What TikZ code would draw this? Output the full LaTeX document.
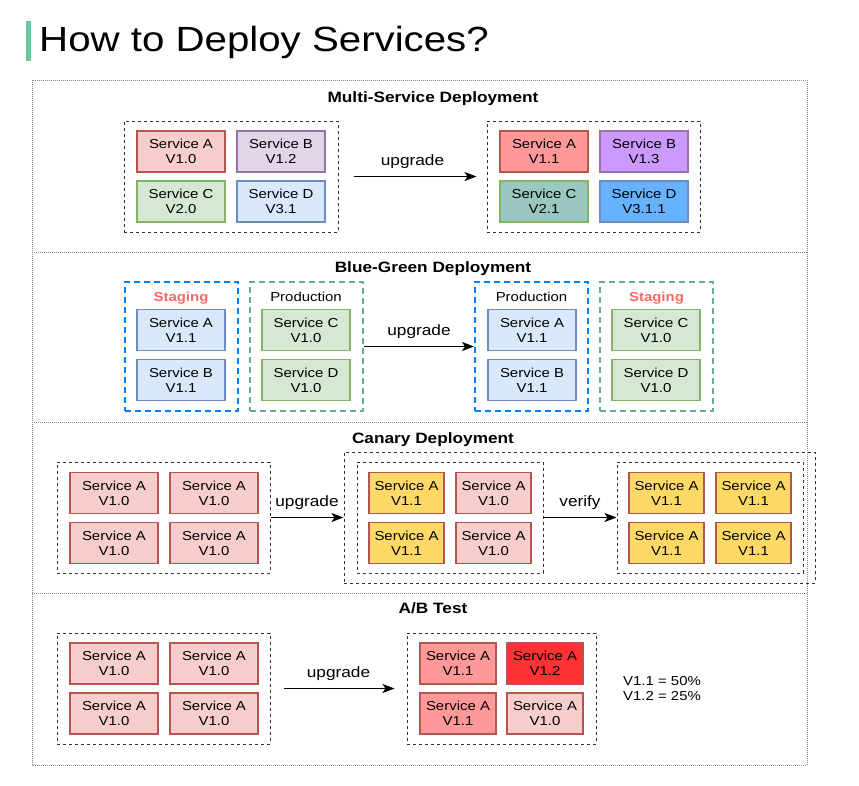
\documentclass[tikz,border=0pt]{standalone}
\usepackage{fontspec}
\setmainfont[FakeStretch=1.15]{Liberation Sans}
\usetikzlibrary{arrows.meta}
\definecolor{barGrn}{HTML}{6BC9A0}
\definecolor{redL}{HTML}{F8CECC}
\definecolor{redD}{HTML}{B85450}
\definecolor{redM}{HTML}{FF9999}
\definecolor{redS}{HTML}{FF3333}
\definecolor{purL}{HTML}{E1D5E7}
\definecolor{purD}{HTML}{9673A6}
\definecolor{purM}{HTML}{CC99FF}
\definecolor{grnL}{HTML}{D5E8D4}
\definecolor{grnD}{HTML}{82B366}
\definecolor{tealM}{HTML}{9AC7BF}
\definecolor{bluL}{HTML}{DAE8FC}
\definecolor{bluD}{HTML}{6C8EBF}
\definecolor{bluM}{HTML}{66B2FF}
\definecolor{yel}{HTML}{FFD966}
\definecolor{dBlue}{HTML}{007FFF}
\definecolor{dGrn}{HTML}{67AB9F}
\definecolor{stagRed}{HTML}{FF6666}
\tikzset{
    svc/.style 2 args={draw=#2,fill=#1,line width=1.2pt,minimum width=88,minimum height=41,inner sep=0,align=center,font=\fontsize{13}{15}\selectfont},
    grp/.style={draw=black!80,dash pattern=on 3pt off 3pt,line width=1pt,inner sep=0},
    bgrp/.style={draw=#1,dash pattern=on 6pt off 4pt,line width=2pt,inner sep=0,minimum width=113,minimum height=129},
    frame/.style={draw=black!45,dash pattern=on 1pt off 1pt,line width=1pt},
    sect/.style={font=\bfseries\fontsize{15}{18}\selectfont,anchor=base,inner sep=0},
    tag/.style={font=\fontsize{13}{15}\selectfont,anchor=base,inner sep=0},
    stag/.style={font=\bfseries\fontsize{13}{15}\selectfont,text=stagRed},
    lbl/.style={font=\fontsize{15}{18}\selectfont,anchor=base,inner sep=0,yshift=11pt},
    arr/.style={-{Stealth[length=12pt,width=9pt,inset=3pt]},line width=1.1pt},
}
\begin{document}
\begin{tikzpicture}[x=1pt,y=-1pt]
    \useasboundingbox (0,0) rectangle (859,785);
    %% Title
    \fill[barGrn] (26,21) rectangle (31,61);
    \node[anchor=base west,inner sep=0,font=\fontsize{35}{40}\selectfont] (title) at (39,51) {How to Deploy Services?};
    %% Frame
    \draw[frame] (32,80) rectangle (807,765);
    \draw[frame] (32,252) -- (807,252);
    \draw[frame] (32,422) -- (807,422);
    \draw[frame] (32,593) -- (807,593);
    %% Multi-Service Deployment
    \node[sect] (tMulti) at (433,102) {Multi-Service Deployment};
    \node[grp,minimum width=214,minimum height=111] (msOld) at (231,176.5) {};
    \node[svc={redL}{redD}] (msOldA) at (181,151.5) {Service A\\V1.0};
    \node[svc={purL}{purD}] (msOldB) at (281,151.5) {Service B\\V1.2};
    \node[svc={grnL}{grnD}] (msOldC) at (181,201.5) {Service C\\V2.0};
    \node[svc={bluL}{bluD}] (msOldD) at (281,201.5) {Service D\\V3.1};
    \node[grp,minimum width=213,minimum height=111] (msNew) at (593.5,176.5) {};
    \node[svc={redM}{redD}] (msNewA) at (544,151.5) {Service A\\V1.1};
    \node[svc={purM}{purD}] (msNewB) at (644,151.5) {Service B\\V1.3};
    \node[svc={tealM}{grnD}] (msNewC) at (544,201.5) {Service C\\V2.1};
    \node[svc={bluM}{bluD}] (msNewD) at (644,201.5) {Service D\\V3.1.1};
    \draw[arr,shorten <=15pt,shorten >=10pt] (msOld) -- node[lbl] {upgrade} (msNew);
    %% Blue-Green Deployment
    \node[sect] (tBlue) at (433,272) {Blue-Green Deployment};
    \node[bgrp=dBlue] (bgStage) at (181.5,346.5) {};
    \node[tag,stag] (bgStageT) at (181,301) {Staging};
    \node[svc={bluL}{bluD}] (bgStageA) at (181,330) {Service A\\V1.1};
    \node[svc={bluL}{bluD}] (bgStageB) at (181,380) {Service B\\V1.1};
    \node[bgrp=dGrn] (bgProd) at (306.5,346.5) {};
    \node[tag] (bgProdT) at (306,301) {Production};
    \node[svc={grnL}{grnD}] (bgProdC) at (306,330) {Service C\\V1.0};
    \node[svc={grnL}{grnD}] (bgProdD) at (306,380) {Service D\\V1.0};
    \node[bgrp=dBlue] (bgProdN) at (531.5,346.5) {};
    \node[tag] (bgProdNT) at (531.5,301) {Production};
    \node[svc={bluL}{bluD}] (bgProdNA) at (532,330) {Service A\\V1.1};
    \node[svc={bluL}{bluD}] (bgProdNB) at (532,380) {Service B\\V1.1};
    \node[bgrp=dGrn] (bgStageN) at (656.5,346.5) {};
    \node[tag,stag] (bgStageNT) at (656.5,301) {Staging};
    \node[svc={grnL}{grnD}] (bgStageNC) at (656,330) {Service C\\V1.0};
    \node[svc={grnL}{grnD}] (bgStageND) at (656,380) {Service D\\V1.0};
    \draw[arr] (bgProd) -- node[lbl] {upgrade} (bgProdN);
    %% Canary Deployment
    \node[sect] (tCanary) at (433,443) {Canary Deployment};
    \node[grp,minimum width=213,minimum height=111] (caOld) at (163.5,517.5) {};
    \node[svc={redL}{redD}] (caOldA) at (114,493) {Service A\\V1.0};
    \node[svc={redL}{redD}] (caOldB) at (214,493) {Service A\\V1.0};
    \node[svc={redL}{redD}] (caOldC) at (114,543) {Service A\\V1.0};
    \node[svc={redL}{redD}] (caOldD) at (214,543) {Service A\\V1.0};
    \node[grp,minimum width=471,minimum height=131] (caOut) at (579.5,517.5) {};
    \node[grp,minimum width=186,minimum height=111] (caMid) at (450,517.5) {};
    \node[svc={yel}{redD},minimum width=75] (caMidA) at (406.5,493) {Service A\\V1.1};
    \node[svc={redL}{redD},minimum width=75] (caMidB) at (493.5,493) {Service A\\V1.0};
    \node[svc={yel}{redD},minimum width=75] (caMidC) at (406.5,543) {Service A\\V1.1};
    \node[svc={redL}{redD},minimum width=75] (caMidD) at (493.5,543) {Service A\\V1.0};
    \node[grp,minimum width=186,minimum height=111] (caNew) at (710,517.5) {};
    \node[svc={yel}{redD},minimum width=75] (caNewA) at (666.5,493) {Service A\\V1.1};
    \node[svc={yel}{redD},minimum width=75] (caNewB) at (753.5,493) {Service A\\V1.1};
    \node[svc={yel}{redD},minimum width=75] (caNewC) at (666.5,543) {Service A\\V1.1};
    \node[svc={yel}{redD},minimum width=75] (caNewD) at (753.5,543) {Service A\\V1.1};
    \draw[arr] (caOld) -- node[lbl] {upgrade} (caOut);
    \draw[arr] (caMid) -- node[lbl] {verify} (caNew);
    %% A/B Test
    \node[sect] (tAB) at (433,613) {A/B Test};
    \node[grp,minimum width=213,minimum height=111] (abOld) at (163.5,688.5) {};
    \node[svc={redL}{redD}] (abOldA) at (114,663.5) {Service A\\V1.0};
    \node[svc={redL}{redD}] (abOldB) at (214,663.5) {Service A\\V1.0};
    \node[svc={redL}{redD}] (abOldC) at (114,713.5) {Service A\\V1.0};
    \node[svc={redL}{redD}] (abOldD) at (214,713.5) {Service A\\V1.0};
    \node[grp,minimum width=189,minimum height=111] (abNew) at (501.5,688.5) {};
    \node[svc={redM}{redD},minimum width=76] (abNewA) at (458,663.5) {Service A\\V1.1};
    \node[svc={redS}{redD},minimum width=76] (abNewB) at (545,663.5) {Service A\\V1.2};
    \node[svc={redM}{redD},minimum width=76] (abNewC) at (458,713.5) {Service A\\V1.1};
    \node[svc={redL}{redD},minimum width=76] (abNewD) at (545,713.5) {Service A\\V1.0};
    \draw[arr,shorten <=13pt,shorten >=12pt] (abOld) -- node[lbl] {upgrade} (abNew);
    \node[anchor=west,align=left,inner sep=0,font=\fontsize{13}{15}\selectfont] (abShare) at (623,689) {V1.1 = 50\%\\V1.2 = 25\%};
\end{tikzpicture}
\end{document}
